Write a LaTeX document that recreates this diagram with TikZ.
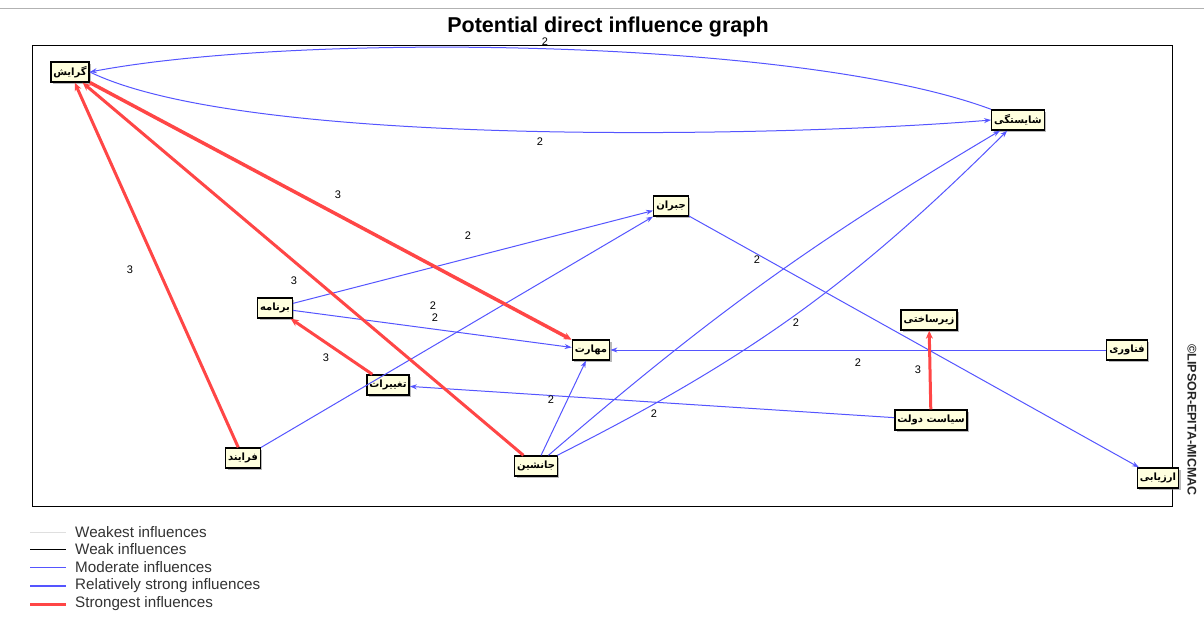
\documentclass[tikz,border=0pt]{standalone}
\usepackage{fontspec}
\setmainfont{Liberation Sans}
\newfontfamily\fa[Script=Arabic]{DejaVu Sans}
\TeXXeTstate=1
\usetikzlibrary{arrows.meta,shadows}
\definecolor{mblue}{RGB}{85,85,255}
\definecolor{sred}{RGB}{255,70,70}
\definecolor{nfill}{RGB}{255,255,222}
\tikzset{
  var/.style={draw=black,line width=1.4pt,fill=nfill,inner sep=2.5pt,minimum height=20pt,
    font=\fa\bfseries\fontsize{10}{12}\selectfont,
    drop shadow={shadow xshift=2pt,shadow yshift=-2pt,opacity=0.55,fill=gray}},
  modinf/.style={draw=mblue,line width=1pt,-{Stealth[length=7pt,width=5pt]}},
  stronginf/.style={draw=sred,line width=3pt,-{Stealth[length=8pt,width=7pt]}},
  lbl/.style={font=\fontsize{11}{12}\selectfont,inner sep=0pt},
  legtxt/.style={anchor=west,font=\fontsize{15.2}{16}\selectfont,text=black!80,inner sep=0pt}
}
\begin{document}
\begin{tikzpicture}[x=1pt,y=-1pt]
\useasboundingbox (0,0) rectangle (1204,637);
\fill[white] (0,0) rectangle (1204,637);
\draw[gray!60,line width=1pt] (0,8) -- (1204,8);
% title and frame
\node[font=\bfseries\fontsize{21.5}{23}\selectfont] (title) at (608,27) {Potential direct influence graph};
\draw[black,line width=0.8pt] (32,45) rectangle (1172,506);
\node[rotate=-90,font=\bfseries\fontsize{12.5}{12.5}\selectfont,text=black!85] (copy) at (1192,420) {\textcopyright LIPSOR-EPITA-MICMAC};
% variables
\node[var] (A) at (70,72) {\beginR گرایش\endR};
\node[var] (B) at (1018,120) {\beginR شایستگی\endR};
\node[var] (C) at (671,206) {\beginR جبران\endR};
\node[var] (D) at (275,308) {\beginR برنامه\endR};
\node[var] (E) at (591,350) {\beginR مهارت\endR};
\node[var] (F) at (388,385) {\beginR تغییرات\endR};
\node[var] (G) at (929,320) {\beginR زیرساختی\endR};
\node[var] (H) at (931,420) {\beginR سیاست دولت\endR};
\node[var] (I) at (1127,350) {\beginR فناوری\endR};
\node[var] (J) at (1158,478) {\beginR ارزیابی\endR};
\node[var] (K) at (243,458) {\beginR فرایند\endR};
\node[var] (L) at (536,466) {\beginR جانشین\endR};
% moderate influences
\draw[modinf] (A.east) .. controls (250,150) and (800,136) .. (B.west);
\draw[modinf] (B.north west) .. controls (800,38) and (300,32) .. (A.east);
\draw[modinf] (D) -- (C);
\draw[modinf] (K) -- (C);
\draw[modinf] (D) -- (E);
\draw[modinf] (C) -- (J);
\draw[modinf] (L) to[bend left=5] (B);
\draw[modinf] (L) to[bend right=9] (B);
\draw[modinf] (L) -- (E);
\draw[modinf] (I) -- (E);
\draw[modinf] (H) -- (F);
% strongest influences
\draw[stronginf] (K) -- (A);
\draw[stronginf] (L) -- (A);
\draw[stronginf,line width=3.5pt] (A) -- (E);
\draw[stronginf] (F) -- (D);
\draw[stronginf] (H) -- (G);
% labels
\node[lbl] (l1) at (545,42) {2};
\node[lbl] (l2) at (540,142) {2};
\node[lbl] (l3) at (468,236) {2};
\node[lbl] (l4) at (433,306) {2};
\node[lbl] (l5) at (435,318) {2};
\node[lbl] (l6) at (757,260) {2};
\node[lbl] (l7) at (796,323) {2};
\node[lbl] (l8) at (858,363) {2};
\node[lbl] (l9) at (551,400) {2};
\node[lbl] (l10) at (654,414) {2};
\node[lbl] (l11) at (338,195) {3};
\node[lbl] (l12) at (130,270) {3};
\node[lbl] (l13) at (294,281) {3};
\node[lbl] (l14) at (326,358) {3};
\node[lbl] (l15) at (918,370) {3};
% legend
\coordinate (g1a) at (30,532); \coordinate (g1b) at (66,532);
\coordinate (g2a) at (30,549); \coordinate (g2b) at (66,549);
\coordinate (g3a) at (30,567); \coordinate (g3b) at (66,567);
\coordinate (g4a) at (30,586); \coordinate (g4b) at (66,586);
\coordinate (g5a) at (30,604); \coordinate (g5b) at (66,604);
\draw[gray!25,line width=1pt] (g1a) -- (g1b);
\draw[black,line width=0.6pt] (g2a) -- (g2b);
\draw[mblue,line width=1pt] (g3a) -- (g3b);
\draw[mblue,line width=2.2pt] (g4a) -- (g4b);
\draw[sred,line width=3pt] (g5a) -- (g5b);
\node[legtxt] (t1) at (75,532) {Weakest influences};
\node[legtxt] (t2) at (75,549) {Weak influences};
\node[legtxt] (t3) at (75,567) {Moderate influences};
\node[legtxt] (t4) at (75,586) {Relatively strong influences};
\node[legtxt] (t5) at (75,604) {Strongest influences};
\end{tikzpicture}
\end{document}
